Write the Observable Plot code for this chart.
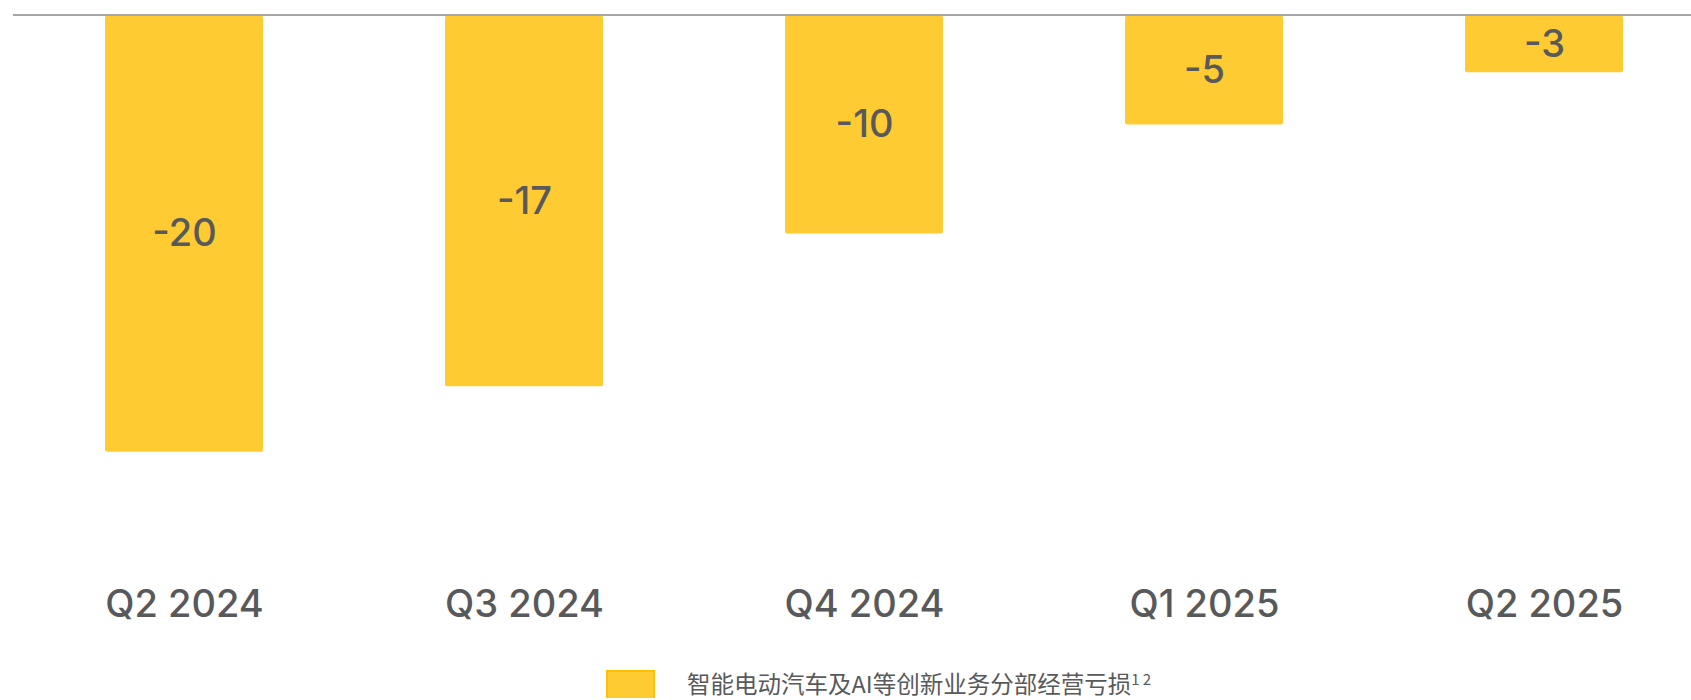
<!DOCTYPE html>
<html>
<head>
<meta charset="utf-8">
<script src="https://cdn.jsdelivr.net/npm/d3@7"></script>
<script src="https://cdn.jsdelivr.net/npm/@observablehq/plot@0.6"></script>
<style>
  html, body { margin: 0; padding: 0; background: #fff; }
  #chart svg { display: block; }
  .legend { display: flex; align-items: flex-start; margin-left: 606px; margin-top: 6px; height: 28px; }
  .swatch { width: 45px; height: 26px; background: #FFCB32; border: 2px solid #FFC000; box-sizing: content-box; }
  .ltext { margin-left: 32px; font-family: "Noto Sans CJK SC", "Noto Sans", sans-serif; font-size: 23.5px; line-height: 26px; color: #58595b; white-space: nowrap; }
  .ltext sup { font-size: 15px; vertical-align: 8px; line-height: 0; }
</style>
</head>
<body>
<div id="chart"></div>
<div class="legend"><div class="swatch"></div><div class="ltext">智能电动汽车及AI等创新业务分部经营亏损<sup>1 2</sup></div></div>
<script>
const quarters = ["Q2 2024", "Q3 2024", "Q4 2024", "Q1 2025", "Q2 2025"];
const losses = [-20, -17, -10, -5, -2.6];
const valueLabels = ["-20", "-17", "-10", "-5", "-3"];
const seriesName = "智能电动汽车及AI等创新业务分部经营亏损";

const data = quarters.map((q, i) => ({q, v: losses[i], label: valueLabels[i]}));

const chart = Plot.plot({
  width: 1691,
  height: 664,
  marginLeft: 13,
  marginRight: 0,
  marginTop: 0,
  marginBottom: 84,
  style: {fontFamily: "Inter, Lato, sans-serif", color: "#58595b", background: "#fff"},
  x: {domain: quarters, range: [104, 1625], paddingInner: 0.5345, paddingOuter: 0, label: null},
  y: {domain: [-20, 0], range: [451.7, 15.5], axis: null},
  marks: [
    Plot.barY(data, {x: "q", y: "v", fill: "#FFCB32", rx: 2}),
    Plot.ruleY([0], {stroke: "#a6a6a6", strokeWidth: 2, dy: -1}),
    Plot.text(data, {x: "q", y: d => d.v / 2, text: "label", fontSize: 38, fontWeight: 500, fill: "#58595b"}),
    Plot.axisX({tickSize: 0, tickPadding: 10, fontSize: 38, fontWeight: 500, fill: "#58595b", label: null})
  ]
});
document.getElementById("chart").appendChild(chart);
</script>
</body>
</html>
